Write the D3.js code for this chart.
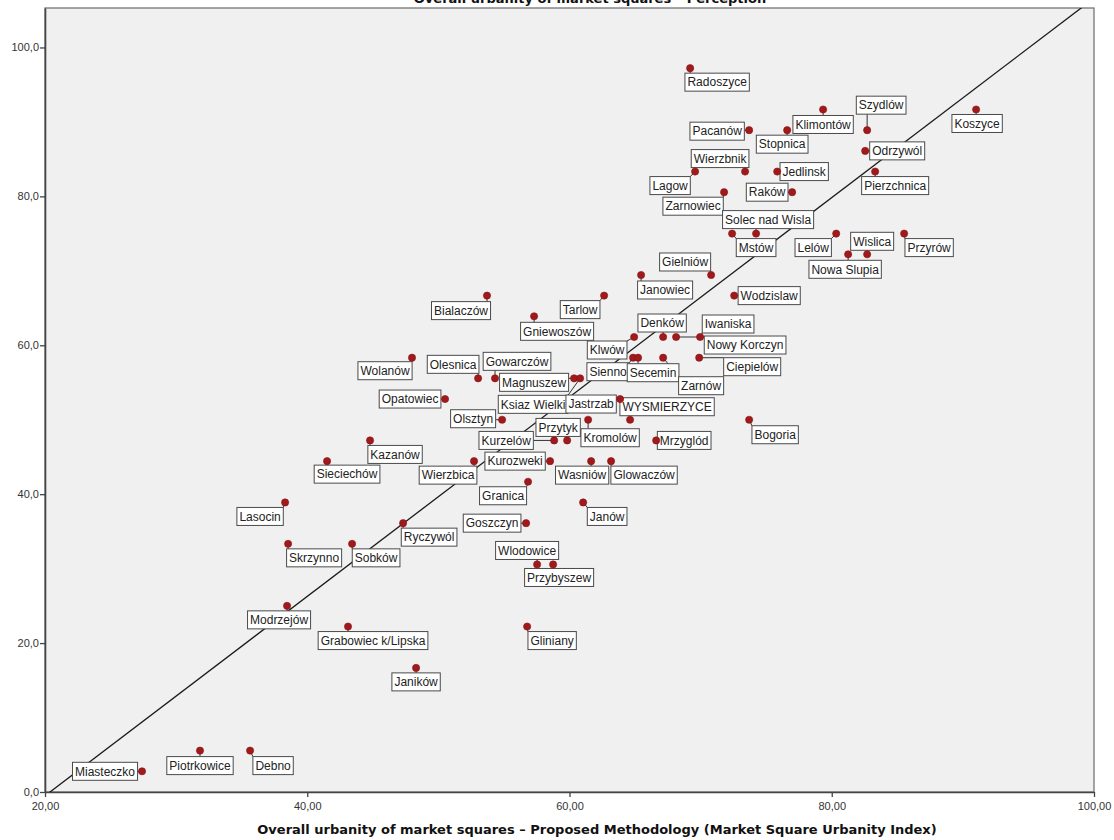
<!DOCTYPE html>
<html>
<head>
<meta charset="utf-8">
<script src="https://cdn.jsdelivr.net/npm/d3@7"></script>
<style>
  body { margin: 0; background: #ffffff; }
  svg text { font-family: "Liberation Sans", Arial, sans-serif; }
</style>
</head>
<body>
<svg id="chart" width="1114" height="840"></svg>
<script>
// Market squares: name, Market Square Urbanity Index (x) and perceived urbanity (y)
const towns = [
  "Radoszyce", "Szydlów", "Koszyce", "Klimontów", "Pacanów", "Stopnica", "Odrzywól",
  "Wierzbnik", "Lagow", "Jedlinsk", "Pierzchnica", "Raków", "Zarnowiec", "Solec nad Wisla",
  "Mstów", "Lelów", "Przyrów", "Nowa Slupia", "Wislica", "Gielniów", "Janowiec",
  "Wodzislaw", "Bialaczów", "Tarlow", "Gniewoszów", "Denków", "Iwaniska", "Nowy Korczyn",
  "Klwów", "Sienno", "Secemin", "Zarnów", "Ciepielów", "Wolanów", "Olesnica",
  "Gowarczów", "Magnuszew", "Ksiaz Wielki", "Jastrzab", "WYSMIERZYCE", "Opatowiec", "Olsztyn",
  "Przytyk", "Kurzelów", "Kromolów", "Mrzyglód", "Bogoria", "Kazanów", "Sieciechów",
  "Wierzbica", "Kurozweki", "Wasniów", "Glowaczów", "Granica", "Janów", "Lasocin",
  "Goszczyn", "Ryczywól", "Wlodowice", "Przybyszew", "Skrzynno", "Sobków", "Modrzejów",
  "Grabowiec k/Lipska", "Gliniany", "Janików", "Miasteczko", "Piotrkowice", "Debno"
];

const msuIndex = [
  69.20, 82.70, 91.01, 79.34, 73.70, 76.60, 82.55,
  73.39, 69.58, 75.84, 83.31, 76.98, 71.79, 74.23,
  72.40, 80.34, 85.52, 81.25, 82.70, 70.80, 65.46,
  72.56, 53.71, 62.64, 57.30, 67.14, 69.96, 68.13,
  64.93, 64.85, 65.23, 67.14, 69.89, 47.99, 53.03,
  54.32, 60.35, 60.81, 63.86, 64.62, 50.51, 54.86,
  59.82, 58.83, 61.42, 66.61, 73.70, 44.79, 41.51,
  52.72, 58.52, 61.65, 63.17, 56.84, 61.04, 38.31,
  56.69, 47.31, 57.53, 58.75, 38.54, 43.42, 38.46,
  43.11, 56.77, 48.30, 27.40, 31.82, 35.64
];

const perception = [
  97.22, 88.89, 91.67, 91.67, 88.89, 88.89, 86.11,
  83.33, 83.33, 83.33, 83.33, 80.56, 80.56, 75.00,
  75.00, 75.00, 75.00, 72.22, 72.22, 69.44, 69.44,
  66.67, 66.67, 66.67, 63.89, 61.11, 61.11, 61.11,
  61.11, 58.33, 58.33, 58.33, 58.33, 58.33, 55.56,
  55.56, 55.56, 55.56, 52.78, 50.00, 52.78, 50.00,
  47.22, 47.22, 50.00, 47.22, 50.00, 47.22, 44.44,
  44.44, 44.44, 44.44, 44.44, 41.67, 38.89, 38.89,
  36.11, 36.11, 30.56, 30.56, 33.33, 33.33, 25.00,
  22.22, 22.22, 16.67, 2.78, 5.56, 5.56
];

// Label box centre relative to its point, in pixels (layout only)
const labelOffsets = [
  [27, 14], [14, -25], [1, 14], [0, 15], [-32, 1], [-5, 14], [32, 0],
  [-25, -13], [-25, 14], [27, 0], [20, 14], [-25, 0], [-31, 14], [12, -14],
  [24, 14], [-23, 14], [25, 14], [-3, 15], [5, -13], [-26, -13], [24, 15],
  [35, 0], [-26, 15], [-24, 14], [23, 15], [-1, -14], [28, -13], [69, 8],
  [-27, 13], [-25, 14], [15, 15], [38, 28], [53, 9], [-27, 13], [-25, -14],
  [22, -17], [-40, 4], [-47, 26], [-29, 5], [37, -13], [-35, 0], [-29, -1],
  [-9, -13], [-48, 0], [22, 18], [28, 0], [26, 15], [25, 14], [20, 13],
  [-26, 14], [-35, 0], [-9, 14], [33, 14], [-25, 14], [24, 14], [-25, 14],
  [-34, 0], [26, 14], [-10, -14], [6, 13], [26, 14], [24, 14], [-8, 14],
  [25, 14], [25, 14], [0, 14], [-37, 0], [0, 15], [23, 15]
];

const xTicks = [20, 40, 60, 80, 100];
const yTicks = [0, 20, 40, 60, 80, 100];

// Reference line: perception = fitIntercept + fitSlope * index
const fitIntercept = -27.29;
const fitSlope = 1.339;

const chartTitle = "Overall urbanity of market squares \u2013 Perception";
const xTitle = "Overall urbanity of market squares \u2013 Proposed Methodology (Market Square Urbanity Index)";

const svg = d3.select("#chart");
const plot = { left: 45, right: 1094, top: 8, bottom: 792 };

const x = d3.scaleLinear().domain([20, 100]).range([plot.left, plot.right]);
const y = d3.scaleLinear().domain([0, 105.3]).range([plot.bottom, plot.top]);

// plot background and frame
svg.append("rect")
  .attr("x", plot.left).attr("y", plot.top)
  .attr("width", plot.right - plot.left).attr("height", plot.bottom - plot.top)
  .attr("fill", "#f0f0f0").attr("stroke", "#6a6a6a").attr("stroke-width", 1.2);

svg.append("clipPath").attr("id", "plotClip")
  .append("rect")
  .attr("x", plot.left).attr("y", plot.top)
  .attr("width", plot.right - plot.left).attr("height", plot.bottom - plot.top);

// title (runs off the top edge of the page)
svg.append("text")
  .attr("x", 590).attr("y", 3)
  .attr("text-anchor", "middle")
  .style("font-family", "'DejaVu Sans', sans-serif")
  .style("font-weight", "bold").style("font-size", "13px")
  .attr("fill", "#111")
  .text(chartTitle);

// axes
const commaFmt = (digits) => (d) => d3.format("." + digits + "f")(d).replace(".", ",");

const xAxis = svg.append("g")
  .attr("transform", `translate(0,${plot.bottom})`)
  .call(d3.axisBottom(x).tickValues(xTicks).tickFormat(commaFmt(2)).tickSize(5).tickSizeOuter(0));

const yAxis = svg.append("g")
  .attr("transform", `translate(${plot.left},0)`)
  .call(d3.axisLeft(y).tickValues(yTicks).tickFormat(commaFmt(1)).tickSize(5).tickSizeOuter(0));

[xAxis, yAxis].forEach(g => {
  g.select(".domain").attr("stroke", "#444").attr("stroke-width", 1.6);
  g.selectAll(".tick line").attr("stroke", "#444").attr("stroke-width", 1.3);
  g.selectAll(".tick text")
    .attr("fill", "#333")
    .style("font-family", "'Liberation Sans', Arial, sans-serif")
    .style("font-size", "11px");
});
xAxis.selectAll(".tick text").attr("dy", "0.95em");
yAxis.selectAll(".tick text").attr("x", -6);

svg.append("text")
  .attr("x", 597).attr("y", 834)
  .attr("text-anchor", "middle")
  .style("font-family", "'DejaVu Sans', sans-serif")
  .style("font-weight", "bold").style("font-size", "13px")
  .attr("fill", "#111")
  .text(xTitle);

// reference line
const lineGen = d3.line().x(d => x(d)).y(d => y(fitIntercept + fitSlope * d));
svg.append("path")
  .attr("clip-path", "url(#plotClip)")
  .attr("d", lineGen([20, 100]))
  .attr("fill", "none").attr("stroke", "#1a1a1a").attr("stroke-width", 1.3);

// data
const data = towns.map((name, i) => ({
  name, xv: msuIndex[i], yv: perception[i], off: labelOffsets[i]
}));

const leaderLayer = svg.append("g");
const labelLayer = svg.append("g");
const pointLayer = svg.append("g");

data.forEach(d => {
  const px = x(d.xv), py = y(d.yv);
  const cx = px + d.off[0], cy = py + d.off[1];
  const g = labelLayer.append("g");
  const t = g.append("text")
    .attr("x", cx).attr("y", cy + 4.3)
    .attr("text-anchor", "middle")
    .style("font-size", "12px")
    .attr("fill", "#222")
    .text(d.name);
  const w = t.node().getComputedTextLength() + 5;
  const h = 18;
  const left = cx - w / 2, top = cy - h / 2;
  g.insert("rect", "text")
    .attr("x", left).attr("y", top)
    .attr("width", w).attr("height", h)
    .attr("fill", "#ffffff").attr("stroke", "#4a4a4a").attr("stroke-width", 1);

  const nx = Math.max(left, Math.min(px, left + w));
  const ny = Math.max(top, Math.min(py, top + h));
  if (Math.hypot(nx - px, ny - py) > 0.5) {
    leaderLayer.append("line")
      .attr("x1", px).attr("y1", py).attr("x2", nx).attr("y2", ny)
      .attr("stroke", "#333").attr("stroke-width", 1);
  }
});

pointLayer.selectAll("circle")
  .data(data)
  .join("circle")
  .attr("cx", d => x(d.xv))
  .attr("cy", d => y(d.yv))
  .attr("r", 3.6)
  .attr("fill", "#a01a1c")
  .attr("stroke", "#861214")
  .attr("stroke-width", 0.6);
</script>
</body>
</html>
